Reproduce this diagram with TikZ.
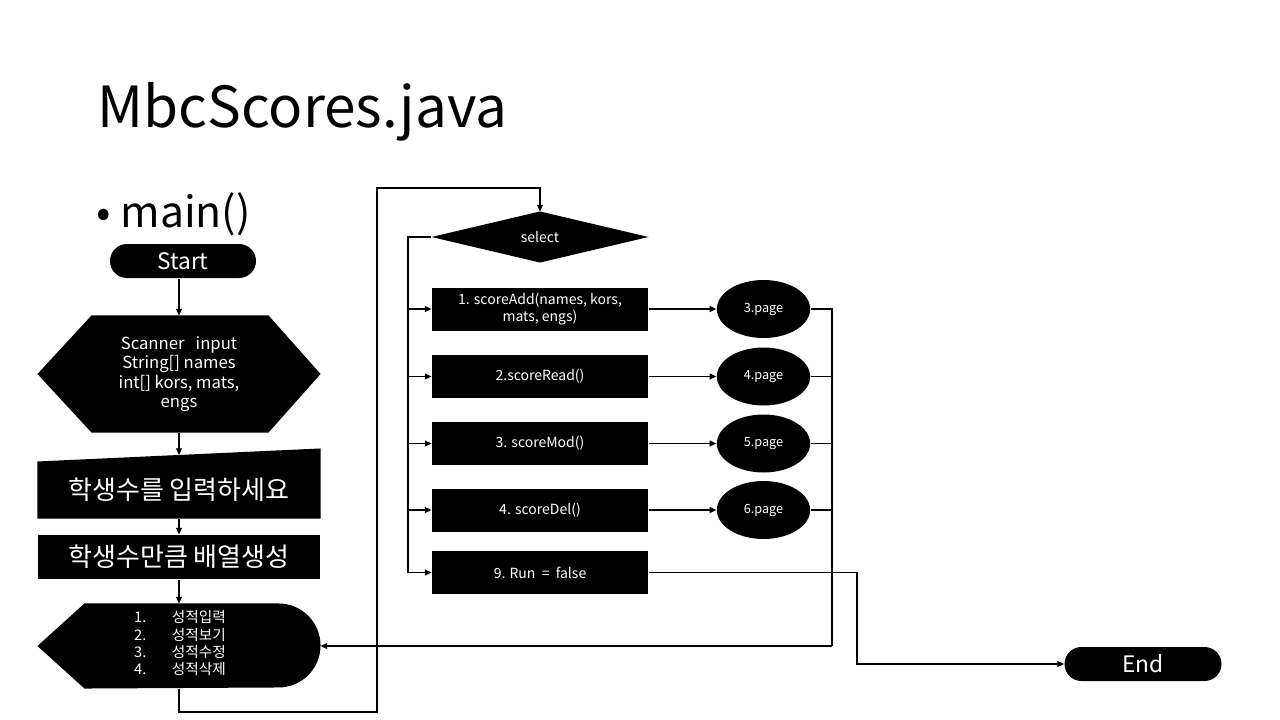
\documentclass[tikz,border=0pt]{standalone}
\usepackage{fontspec}
\setmainfont{Noto Sans CJK KR}
\usetikzlibrary{shapes,arrows.meta,positioning,calc}

\begin{document}
\begin{tikzpicture}[
    x=0.75pt, y=-0.75pt,
    every node/.style={inner sep=0pt},
    >={Triangle[length=5pt,width=4.5pt]},
    every path/.style={line width=0.8pt},
    shapebox/.style={rectangle, minimum width=211.5pt},
    whitetext/.style={text=white, align=center},
    flowbox/.style={rectangle, fill=black, text=white, align=center, minimum width=162pt, minimum height=32.25pt, font=\fontsize{10.5}{12.5}\selectfont},
    pagenode/.style={ellipse, fill=black, text=white, minimum width=70pt, minimum height=43.5pt, font=\fontsize{9.5}{10}\selectfont},
    termnode/.style={rounded rectangle, fill=black, text=white, minimum height=25.5pt, font=\fontsize{17}{20}\selectfont}
]
    \useasboundingbox (0,0) rectangle (1280,720);

    \node[anchor=base west, font=\fontsize{42.5}{48}\selectfont] (title) at (97,128) {MbcScores.java};
    \node[anchor=west, font=\fontsize{32}{36}\selectfont] (sub) at (96,214) {\textbullet\ main()};

    \node[termnode, minimum width=109.5pt] (start) at (183,261) {Start};

    \node[shapebox, minimum height=87pt] (hex) at (179,374) {};
    \fill (hex.west) -- ($(hex.north west)+(54,0)$) -- ($(hex.north east)+(-52,0)$) -- (hex.east)
        -- ($(hex.south east)+(-52,0)$) -- ($(hex.south west)+(54,0)$) -- cycle;
    \node[whitetext, font=\fontsize{12.5}{14.5}\selectfont] (hextext) at (hex) {Scanner\ \ \ input\\String[] names\\int[] kors, mats,\\engs};

    \node[shapebox, minimum height=51.75pt] (inp) at (179,483.5) {};
    \fill (inp.south west) -- (inp.south east) -- (inp.north east) -- ($(inp.north west)+(0,13)$) -- cycle;
    \coordinate (inptop) at ($(inp.north)+(0,6.5)$);
    \node[whitetext, font=\fontsize{19.5}{22}\selectfont] (inptext) at (179,490) {학생수를 입력하세요};

    \node[shapebox, fill=black, text=white, minimum height=33pt, font=\fontsize{19.5}{22}\selectfont] (arr) at (179,557) {학생수만큼 배열생성};

    \node[shapebox, minimum height=63pt] (disp) at (179,646) {};
    \fill (disp.west) -- ($(disp.north west)+(47,0)$) -- ($(disp.north east)+(-42,0)$)
        arc[start angle=90, end angle=-90, radius=31.5pt] -- ($(disp.south west)+(47,0)$) -- cycle;
    \node[whitetext, font=\fontsize{11}{12.5}\selectfont] (disptext) at (180,645)
        {\begin{tabular}{@{}l@{\hspace{19pt}}l@{}}1. & 성적입력\\2. & 성적보기\\3. & 성적수정\\4. & 성적삭제\end{tabular}};

    \node[rectangle, minimum width=162pt, minimum height=37.5pt] (sel) at (540,237) {};
    \fill (sel.north) -- (sel.east) -- (sel.south) -- (sel.west) -- cycle;
    \node[whitetext, font=\fontsize{10.5}{12}\selectfont] (seltext) at (sel) {select};

    \node[flowbox] (b1) at (540,309) {1. scoreAdd(names, kors,\\mats, engs)};
    \node[flowbox] (b2) at (540,376.5) {2.scoreRead()};
    \node[flowbox] (b3) at (540,443.5) {3. scoreMod()};
    \node[flowbox] (b4) at (540,510) {4. scoreDel()};
    \node[flowbox] (b5) at (540,572.5) {9. Run\ \ =\ \ false};

    \node[pagenode] (p1) at (763.5,309) {3.page};
    \node[pagenode] (p2) at (763.5,376.5) {4.page};
    \node[pagenode] (p3) at (763.5,443.5) {5.page};
    \node[pagenode] (p4) at (763.5,510) {6.page};

    \node[termnode, minimum width=117.75pt] (end) at (1143,664) {End};

    \coordinate (loopbot) at (377,712);
    \coordinate (looptop) at (377,188);
    \coordinate (bus) at (408,237);
    \coordinate (ret) at (832,646);
    \coordinate (runx) at (857,600);

    \draw[->] (hex.north |- start.south) -- (hex.north);
    \draw[->] (hex) -- (inptop);
    \draw[->] (inp) -- (arr);
    \draw[->] (arr) -- (disp);
    \draw[->] (disp.south) |- (loopbot) -- (looptop) -| (sel.north);

    \draw[->] (sel.west) -- (bus) |- (b5.west);
    \foreach \i in {1,...,4} {
        \draw[->] (bus |- b\i.west) -- (b\i.west);
        \draw[->] (b\i) -- (p\i);
    }
    \draw (p1.east) -| (ret);
    \foreach \i in {2,3,4} \draw (p\i.east) -- (ret |- p\i.east);
    \draw[->] (ret) -- (disp.east);
    \draw[->] (b5.east) -| (runx) |- (end.west);
\end{tikzpicture}
\end{document}
